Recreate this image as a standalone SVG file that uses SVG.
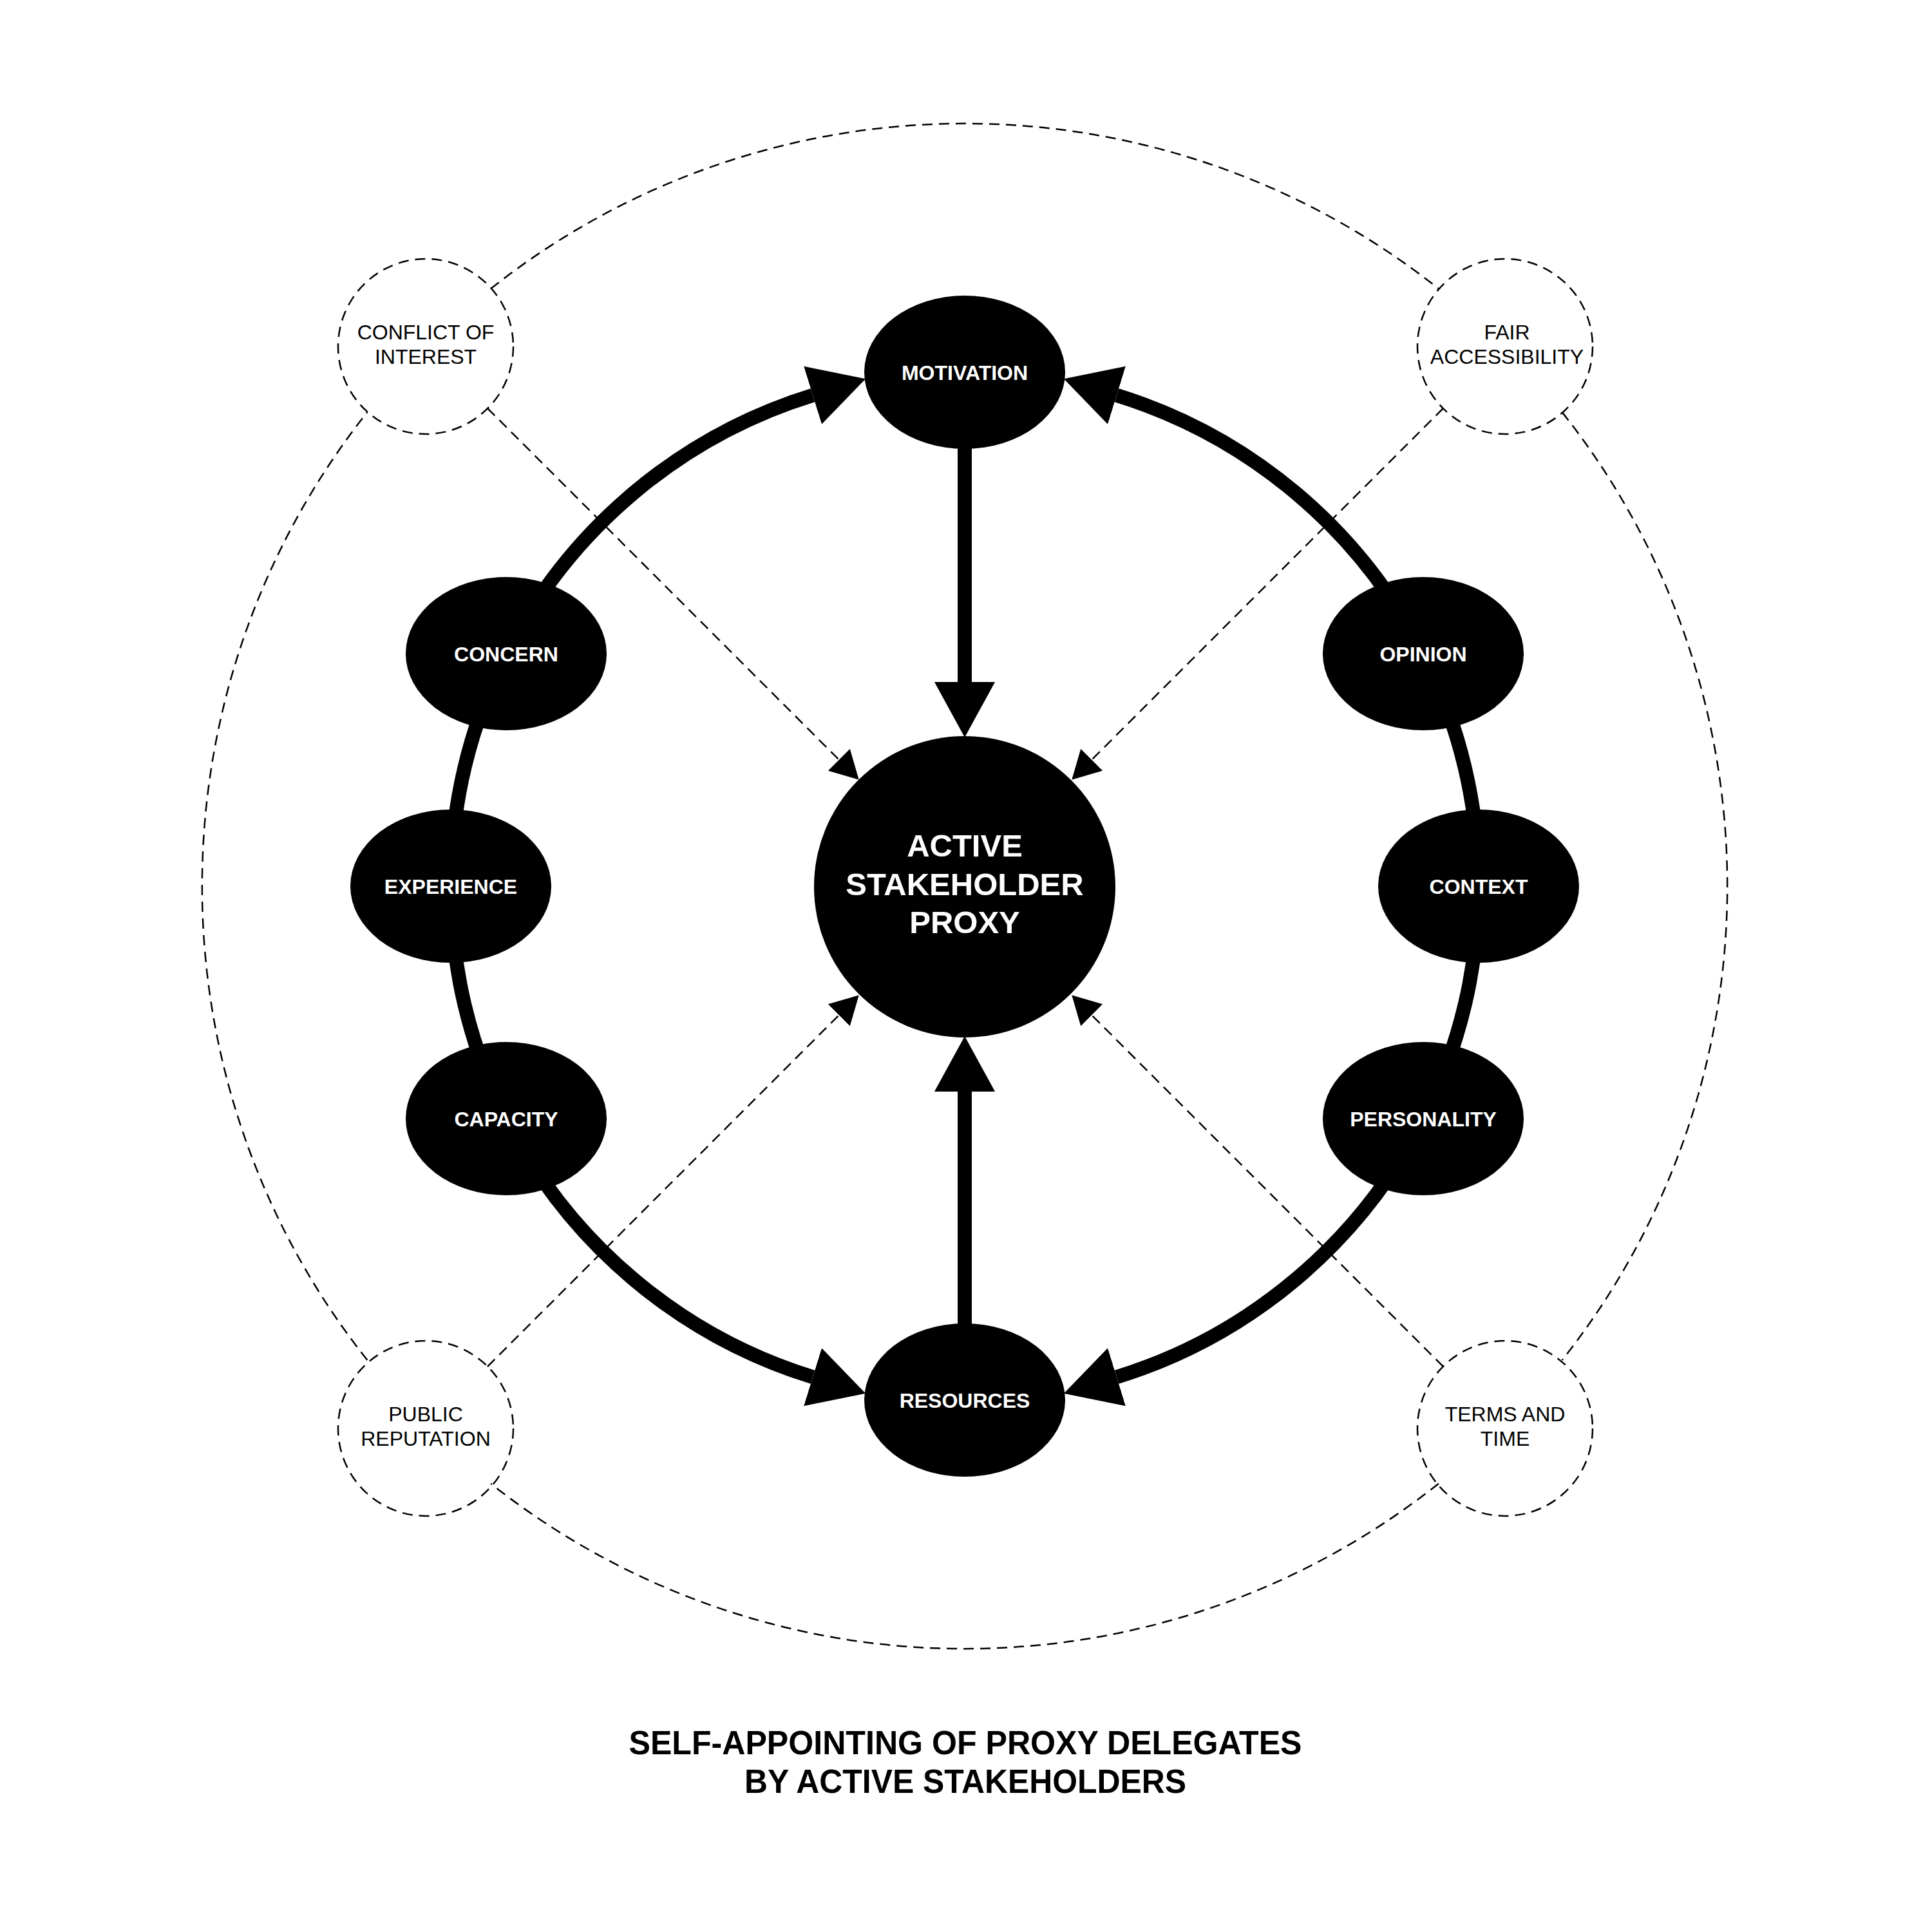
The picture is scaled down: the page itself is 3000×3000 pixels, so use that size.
<svg xmlns="http://www.w3.org/2000/svg" width="3000" height="3000" viewBox="0 0 3000 3000">
  <style>
    .bg { fill: #ffffff; }
    .node { fill: #000000; }
    .nlabel { font-family: "Liberation Sans", Arial, sans-serif; font-weight: bold; font-size: 32px; fill: #ffffff; text-anchor: middle; }
    .clabel { font-family: "Liberation Sans", Arial, sans-serif; font-weight: bold; font-size: 49px; fill: #ffffff; text-anchor: middle; }
    .factor { fill: none; stroke: #000000; stroke-width: 2.5; stroke-dasharray: 16 10; }
    .flabel { font-family: "Liberation Sans", Arial, sans-serif; font-size: 32px; fill: #000000; text-anchor: middle; }
    .ring { fill: none; stroke: #000000; stroke-width: 22; }
    .dash { fill: none; stroke: #000000; stroke-width: 2.5; stroke-dasharray: 16 10; }
    .title { font-family: "Liberation Sans", Arial, sans-serif; font-weight: bold; font-size: 52px; fill: #000000; text-anchor: middle; }
  </style>
  <defs>
    <marker id="bigArrow" markerUnits="userSpaceOnUse" markerWidth="90" markerHeight="100" viewBox="0 -48 88 96" refX="0" refY="0" orient="auto">
      <path d="M0,-46 L84,0 L0,46 Z" fill="#000000"/>
    </marker>
    <marker id="smallArrow" markerUnits="userSpaceOnUse" markerWidth="46" markerHeight="50" viewBox="0 -24 44 48" refX="0" refY="0" orient="auto">
      <path d="M0,-23 L42,0 L0,23 Z" fill="#000000"/>
    </marker>
  </defs>
  <rect class="bg" x="0" y="0" width="3000" height="3000"/>

  <g id="connectors">
    <!-- outer dashed ring between factor circles -->
    <path class="dash" d="M762.1,448.3 A1184,1184 0 0 1 2233.9,448.3"/>
    <path class="dash" d="M2425.7,640.1 A1184,1184 0 0 1 2425.7,2111.9"/>
    <path class="dash" d="M2233.9,2303.7 A1184,1184 0 0 1 762.1,2303.7"/>
    <path class="dash" d="M570.3,2111.9 A1184,1184 0 0 1 570.3,640.1"/>
    <!-- dashed diagonals to the center -->
    <path class="dash" d="M757,634 L1302.8,1179.8" marker-end="url(#smallArrow)"/>
    <path class="dash" d="M2241,634 L1695.2,1179.8" marker-end="url(#smallArrow)"/>
    <path class="dash" d="M757,2122 L1302.8,1576.2" marker-end="url(#smallArrow)"/>
    <path class="dash" d="M2241,2122 L1695.2,1576.2" marker-end="url(#smallArrow)"/>
    <!-- thick ring -->
    <path class="ring" d="M786,1015 A798,798 0 0 1 1262,613.7" marker-end="url(#bigArrow)"/>
    <path class="ring" d="M786,1015 A798,798 0 0 0 700,1376"/>
    <path class="ring" d="M700,1376 A798,798 0 0 0 786,1737"/>
    <path class="ring" d="M786,1737 A798,798 0 0 0 1262,2138.3" marker-end="url(#bigArrow)"/>
    <path class="ring" d="M2210,1015 A798,798 0 0 0 1734,613.7" marker-end="url(#bigArrow)"/>
    <path class="ring" d="M2210,1015 A798,798 0 0 1 2296,1376"/>
    <path class="ring" d="M2296,1376 A798,798 0 0 1 2210,1737"/>
    <path class="ring" d="M2210,1737 A798,798 0 0 1 1734,2138.3" marker-end="url(#bigArrow)"/>
    <!-- straight arrows -->
    <path class="ring" d="M1498,600 L1498,1059" marker-end="url(#bigArrow)"/>
    <path class="ring" d="M1498,2150 L1498,1695" marker-end="url(#bigArrow)"/>
  </g>

  <g id="node-center">
    <circle class="node" cx="1498" cy="1377" r="234"/>
    <text class="clabel" x="1498" y="1330">ACTIVE</text>
    <text class="clabel" x="1498" y="1390">STAKEHOLDER</text>
    <text class="clabel" x="1498" y="1449">PROXY</text>
  </g>
  <g id="node-motivation">
    <ellipse class="node" cx="1498" cy="578" rx="156" ry="119"/>
    <text class="nlabel" x="1498" y="590">MOTIVATION</text>
  </g>
  <g id="node-resources">
    <ellipse class="node" cx="1498" cy="2174" rx="156" ry="119"/>
    <text class="nlabel" x="1498" y="2186">RESOURCES</text>
  </g>
  <g id="node-concern">
    <ellipse class="node" cx="786" cy="1015" rx="156" ry="119"/>
    <text class="nlabel" x="786" y="1027">CONCERN</text>
  </g>
  <g id="node-experience">
    <ellipse class="node" cx="700" cy="1376" rx="156" ry="119"/>
    <text class="nlabel" x="700" y="1388">EXPERIENCE</text>
  </g>
  <g id="node-capacity">
    <ellipse class="node" cx="786" cy="1737" rx="156" ry="119"/>
    <text class="nlabel" x="786" y="1749">CAPACITY</text>
  </g>
  <g id="node-opinion">
    <ellipse class="node" cx="2210" cy="1015" rx="156" ry="119"/>
    <text class="nlabel" x="2210" y="1027">OPINION</text>
  </g>
  <g id="node-context">
    <ellipse class="node" cx="2296" cy="1376" rx="156" ry="119"/>
    <text class="nlabel" x="2296" y="1388">CONTEXT</text>
  </g>
  <g id="node-personality">
    <ellipse class="node" cx="2210" cy="1737" rx="156" ry="119"/>
    <text class="nlabel" x="2210" y="1749">PERSONALITY</text>
  </g>

  <g id="node-conflict">
    <circle class="factor" cx="661" cy="538" r="136"/>
    <text class="flabel" x="661" y="527">CONFLICT OF</text>
    <text class="flabel" x="661" y="565">INTEREST</text>
  </g>
  <g id="node-fair">
    <circle class="factor" cx="2337" cy="538" r="136"/>
    <text class="flabel" x="2340" y="527">FAIR</text>
    <text class="flabel" x="2340" y="565">ACCESSIBILITY</text>
  </g>
  <g id="node-public">
    <circle class="factor" cx="661" cy="2218" r="136"/>
    <text class="flabel" x="661" y="2207">PUBLIC</text>
    <text class="flabel" x="661" y="2245">REPUTATION</text>
  </g>
  <g id="node-terms">
    <circle class="factor" cx="2337" cy="2218" r="136"/>
    <text class="flabel" x="2337" y="2207">TERMS AND</text>
    <text class="flabel" x="2337" y="2245">TIME</text>
  </g>

  <g id="title">
    <text class="title" x="1499" y="2724" textLength="1045" lengthAdjust="spacingAndGlyphs">SELF-APPOINTING OF PROXY DELEGATES</text>
    <text class="title" x="1499" y="2784" textLength="686" lengthAdjust="spacingAndGlyphs">BY ACTIVE STAKEHOLDERS</text>
  </g>
</svg>
